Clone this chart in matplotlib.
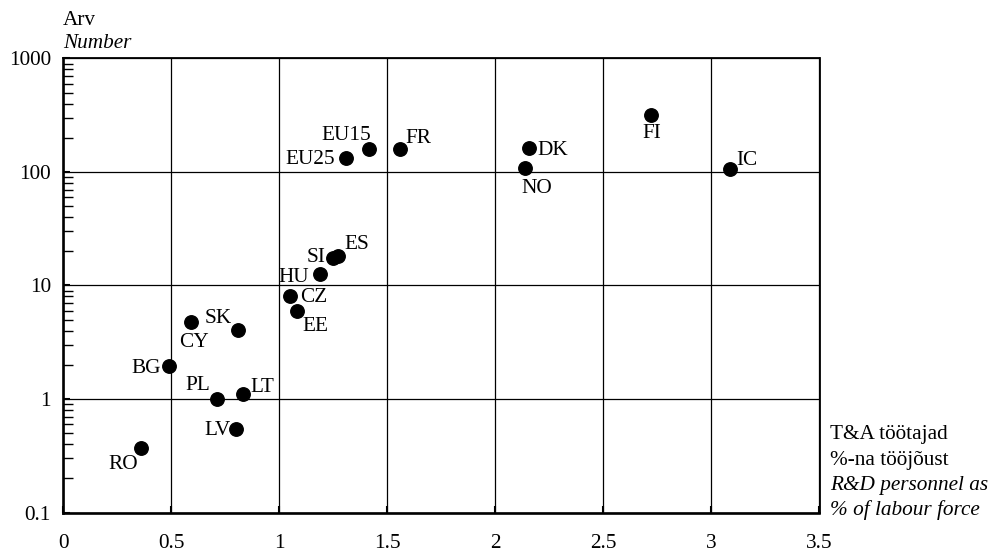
import matplotlib.pyplot as plt
from matplotlib.ticker import FixedLocator, LogLocator, NullFormatter

plt.rcParams['font.family'] = ['Liberation Serif', 'DejaVu Serif']

# R&D personnel share vs number (log scale)
countries = ['RO', 'BG', 'CY', 'SK', 'PL', 'LT', 'LV', 'CZ', 'EE', 'HU',
             'SI', 'ES', 'EU25', 'EU15', 'FR', 'DK', 'NO', 'FI', 'IC']
personnel = [0.36, 0.49, 0.59, 0.81, 0.71, 0.83, 0.80, 1.05, 1.08, 1.19,
             1.25, 1.27, 1.31, 1.415, 1.56, 2.155, 2.135, 2.72, 3.085]
number = [0.37, 1.95, 4.8, 4.05, 1.0, 1.11, 0.54, 8.1, 6.0, 12.6,
          17.6, 18.3, 132, 158, 158, 162, 108, 318, 106]

# label offsets in pixels (dx, dy) from each dot
offsets = {'RO': (-18, -17), 'BG': (-23, -2), 'CY': (3, -21), 'SK': (-20, 12),
           'PL': (-19, 13), 'LT': (20, 6), 'LV': (-19, -1), 'CZ': (24, -2),
           'EE': (19, -16), 'HU': (-27, -3), 'SI': (-17, 0), 'ES': (19, 11),
           'EU25': (-36, -1), 'EU15': (-23, 14), 'FR': (18, 11), 'DK': (24, -2),
           'NO': (12, -20), 'FI': (1, -19), 'IC': (17, 9)}

xticks = [0, 0.5, 1, 1.5, 2, 2.5, 3, 3.5]
xticklabels = ['0', '0.5', '1', '1.5', '2', '2.5', '3', '3.5']
yticks = [0.1, 1, 10, 100, 1000]
yticklabels = ['0.1', '1', '10', '100', '1000']

FS = 15.3
W, H = 989, 552
fig = plt.figure(figsize=(W / 100, H / 100), dpi=100)
ax = fig.add_axes([63.3 / W, 1 - 512.5 / H, (819.5 - 63.3) / W, (512.5 - 58.4) / H])

ax.set_yscale('log')
ax.set_xlim(0, 3.5)
ax.set_ylim(0.1, 1000)

ax.plot(personnel, number, 'o', color='black', markersize=9.7, zorder=3)
for c, x, y in zip(countries, personnel, number):
    dx, dy = offsets[c]
    ax.annotate(c, (x, y), xytext=(dx, dy), textcoords='offset pixels',
                ha='center', va='center', fontsize=FS)

ax.xaxis.set_major_locator(FixedLocator(xticks))
ax.set_xticklabels(xticklabels)
ax.yaxis.set_major_locator(FixedLocator(yticks))
ax.set_yticklabels(yticklabels)
ax.yaxis.set_minor_locator(LogLocator(base=10, subs=range(2, 10), numticks=20))
ax.yaxis.set_minor_formatter(NullFormatter())

ax.grid(True, which='major', color='black', linewidth=0.9)
ax.tick_params(axis='both', which='major', direction='in', length=5, width=1.5,
               labelsize=FS, colors='black')
ax.tick_params(axis='x', which='major', pad=15.5)
ax.tick_params(axis='y', which='major', pad=9)
ax.tick_params(axis='y', which='minor', direction='in', length=7, width=1.0)
ax.tick_params(axis='x', which='minor', length=0)

for side in ['left', 'bottom']:
    ax.spines[side].set_linewidth(1.9)
for side in ['top', 'right']:
    ax.spines[side].set_linewidth(1.3)

def px(x, y):
    return x / W, 1 - y / H

fig.text(*px(63, 25), 'Arv', fontsize=FS, va='baseline')
fig.text(*px(63, 48), 'Number', fontsize=FS, va='baseline', style='italic')

xlab = [('T&A töötajad', 'normal'), ('%-na tööjõust', 'normal'),
        ('R&D personnel as', 'italic'), ('% of labour force', 'italic')]
for i, (t, st) in enumerate(xlab):
    fig.text(*px(830, 439 + 25.5 * i), t, fontsize=FS, va='baseline', style=st)

fig.savefig('out.png', dpi=100)
